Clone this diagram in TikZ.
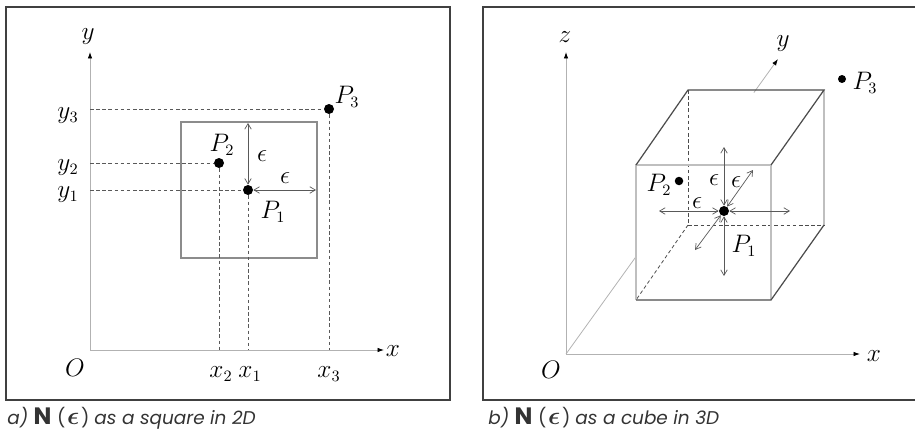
\documentclass[tikz,border=0pt]{standalone}
\usepackage{amsmath}
\usepackage{fontspec}
\usepackage{tikz}
\usetikzlibrary{arrows.meta, calc}
\newfontfamily\capfont{Poppins}
\newcommand{\capN}{{\fontsize{13.5}{14}\selectfont\upshape\bfseries N}}
\newcommand{\capeps}{{\fontsize{14}{14}\selectfont$\boldsymbol{\epsilon}$}}

\begin{document}
\begin{tikzpicture}[
  x=0.02cm, y=-0.02cm,
  font=\fontsize{13.5}{15}\selectfont,
  frame/.style={draw=black!75, line width=0.8pt},
  axis/.style={draw=black!30, line width=0.45pt, -{Latex[length=1.3mm, width=0.9mm, black]}},
  guide/.style={draw=black!65, line width=0.4pt, dash pattern=on 2pt off 1.5pt},
  pt/.style={circle, fill=black, inner sep=0pt, minimum size=0.2cm},
  eps/.style={draw=black!65, line width=0.4pt, {Straight Barb[length=1.1mm, width=1.3mm]}-{Straight Barb[length=1.1mm, width=1.3mm]}},
  darkedge/.style={draw=black!70, line width=0.7pt},
  lightedge/.style={draw=black!25, line width=1pt},
  hidden/.style={draw=black!70, line width=0.45pt, dash pattern=on 2pt off 1.5pt},
  lbl/.style={inner sep=0pt},
  caption/.style={anchor=west, inner sep=0pt, text=black!80, font=\capfont\fontsize{10.5}{12}\selectfont}
]
\useasboundingbox (0,0) rectangle (915,439);

% --- frames ---
\draw[frame] (6,7) rectangle (450,400);
\draw[frame] (915,7) -- (483,7) -- (483,400) -- (915,400);

% --- a) square in 2D ---
\coordinate (oa) at (90,350);
\coordinate (xa) at (384,350);
\coordinate (ya) at (90,52);
\draw[axis] (oa) -- (xa);
\draw[axis] (oa) -- (ya);
\node[lbl] (xlabela) at (393,351) {$x$};
\node[lbl] (ylabela) at (88,37) {$y$};
\node[lbl] (olabela) at (75,368) {$O$};

\draw[draw=black!45, line width=0.6pt] (181,122) rectangle (317,258);

\node[pt] (a1) at (248,190) {};
\node[pt] (a2) at (219,163) {};
\node[pt] (a3) at (329,109) {};

\coordinate (a1x) at (248,350);
\coordinate (a2x) at (219,350);
\coordinate (a3x) at (329,350);
\coordinate (a1y) at (90,190);
\coordinate (a2y) at (90,163);
\coordinate (a3y) at (90,109);
\draw[guide] (a1y) -- (a1) -- (a1x);
\draw[guide] (a2y) -- (a2) -- (a2x);
\draw[guide] (a3y) -- (a3) -- (a3x);

\coordinate (a1top) at (248,123);
\coordinate (a1right) at (316,190);
\draw[eps] (a1) -- (a1top);
\draw[eps] (a1) -- (a1right);
\node[lbl] (epsa1) at (262,156) {$\epsilon$};
\node[lbl] (epsa2) at (285,178) {$\epsilon$};

\node[lbl] (p1a) at (273,212) {$P_1$};
\node[lbl] (p2a) at (222,145) {$P_2$};
\node[lbl] (p3a) at (347,97) {$P_3$};
\node[lbl] (y1a) at (68,195) {$y_1$};
\node[lbl] (y2a) at (68,168) {$y_2$};
\node[lbl] (y3a) at (68,116) {$y_3$};
\node[lbl] (x2a) at (221,374) {$x_2$};
\node[lbl] (x1a) at (250,374) {$x_1$};
\node[lbl] (x3a) at (329,374) {$x_3$};

\node[caption] (capa) at (7,418) {\itshape a) \capN\ \upshape(\kern1pt\capeps\kern1pt) \itshape as a square in 2D};

% --- b) cube in 3D ---
\coordinate (ob) at (566,354);
\coordinate (xb) at (860,354);
\coordinate (zb) at (566,52);
\coordinate (yb) at (778,59);
\draw[axis] (ob) -- (xb);
\draw[axis] (ob) -- (zb);
\draw[draw=black!30, line width=0.45pt] (ob) -- ($(ob)!0.332!(yb)$);
\draw[axis] ($(ob)!0.886!(yb)$) -- (yb);
\node[lbl] (xlabelb) at (874,356) {$x$};
\node[lbl] (zlabelb) at (565,37) {$z$};
\node[lbl] (ylabelb) at (783,44) {$y$};
\node[lbl] (olabelb) at (551,370) {$O$};

% cube corners
\coordinate (f1) at (636,165);
\coordinate (f2) at (771,165);
\coordinate (f3) at (771,300);
\coordinate (f4) at (636,300);
\coordinate (b1) at (688,90);
\coordinate (b2) at (824,90);
\coordinate (b3) at (824,225);
\coordinate (b4) at (688,225);

\draw[hidden] (b1) -- (b4) -- (b3);
\draw[hidden] (b4) -- (f4);
\draw[lightedge] (f4) -- (f1) -- (f2) -- (f3);
\draw[lightedge] (b2) -- (b3);
\draw[darkedge] (f1) -- (b1) -- (b2) -- (f2);
\draw[darkedge] (b3) -- (f3) -- (f4);

\node[pt] (b1pt) at (724,211) {};
\node[pt, minimum size=0.17cm] (b2pt) at (679,181) {};
\node[pt, minimum size=0.16cm] (b3pt) at (842,79) {};

\coordinate (b1up) at (724,147);
\coordinate (b1down) at (724,276);
\coordinate (b1left) at (659,211);
\coordinate (b1right) at (790,211);
\coordinate (b1back) at (753,170);
\coordinate (b1front) at (695,250);
\foreach \tip in {b1up, b1down, b1left, b1right, b1back, b1front}
  \draw[eps] (b1pt) -- (\tip);

\node[lbl] (epsb1) at (714,180) {$\epsilon$};
\node[lbl] (epsb2) at (736,182) {$\epsilon$};
\node[lbl] (epsb3) at (697,203) {$\epsilon$};

\node[lbl] (p1b) at (744,246) {$P_1$};
\node[lbl] (p2b) at (659,185) {$P_2$};
\node[lbl] (p3b) at (865,83) {$P_3$};

\node[caption] (capb) at (488,418) {\itshape b) \capN\ \upshape(\kern1pt\capeps\kern1pt) \itshape as a cube in 3D};

\end{tikzpicture}
\end{document}
